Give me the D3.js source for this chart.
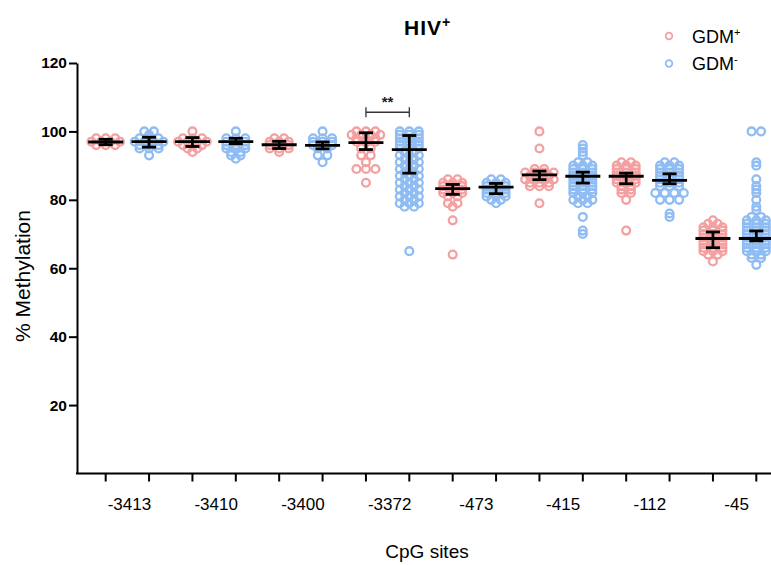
<!DOCTYPE html>
<html>
<head>
<meta charset="utf-8">
<script src="https://cdn.jsdelivr.net/npm/d3@7"></script>
<style>
  html, body { margin: 0; padding: 0; background: #fff; }
  svg { display: block; }
  text { font-family: "Liberation Sans", Arial, sans-serif; }
</style>
</head>
<body>
<div id="chart"></div>
<script>
  // CpG sites and groups
  const sites = ['-3413', '-3410', '-3400', '-3372', '-473', '-415', '-112', '-45'];
  const groups = ['GDM+', 'GDM-'];

  // Individual % methylation values per site
  const gdmPosValues = [
    [98, 98, 98, 97, 97, 97, 97, 96, 96, 96],
    [100, 98, 98, 98, 97, 97, 97, 97, 96, 96, 96, 95, 95, 94],
    [98, 98, 97, 97, 97, 96, 96, 96, 95, 95, 95, 94],
    [100, 100, 100, 99, 99, 99, 99, 98, 98, 98, 97, 97, 97, 95, 95, 93, 93, 91, 89, 89, 89, 85],
    [86, 86, 85, 85, 85, 84, 84, 84, 83, 83, 83, 82, 82, 82, 81, 81, 79, 79, 78, 74, 64],
    [100, 95, 89, 89, 88, 88, 88, 88, 87, 87, 87, 86, 86, 86, 86, 85, 85, 85, 84, 84, 84, 79],
    [91, 91, 90, 90, 90, 89, 89, 89, 88, 88, 88, 87, 87, 87, 86, 86, 86, 85, 85, 85, 84, 84, 83, 83, 82, 82, 80, 71],
    [74, 73, 73, 72, 72, 72, 71, 71, 71, 70, 70, 70, 69, 69, 69, 68, 68, 68, 67, 67, 67, 66, 66, 66, 65, 65, 65, 64, 64, 62]
  ];
  const gdmNegValues = [
    [100, 100, 99, 98, 98, 98, 97, 97, 97, 97, 96, 96, 96, 95, 95, 95, 93],
    [100, 98, 98, 98, 97, 97, 97, 96, 96, 96, 95, 95, 95, 94, 94, 93, 93, 92],
    [100, 98, 98, 98, 97, 97, 97, 96, 96, 96, 95, 95, 93, 93, 91],
    [100, 100, 100, 99, 99, 99, 98, 98, 98, 97, 97, 97, 96, 96, 96, 95, 95, 95, 94, 94, 93, 93, 93,
     92, 92, 91, 91, 91, 90, 90, 89, 89, 89, 88, 88, 87, 87, 87, 86, 86, 85, 85, 85, 84, 84, 83, 83, 83,
     82, 82, 81, 81, 81, 80, 80, 79, 79, 79, 78, 78, 65],
    [86, 86, 85, 85, 85, 84, 84, 84, 83, 83, 83, 82, 82, 82, 81, 81, 81, 80, 80, 79],
    [96, 95, 94, 93, 91, 91, 90, 90, 90, 89, 89, 89, 88, 88, 88, 87, 87, 87, 86, 86, 86, 85, 85, 85,
     84, 84, 84, 83, 83, 83, 82, 82, 82, 81, 81, 80, 80, 80, 79, 79, 75, 71, 70],
    [91, 91, 90, 90, 90, 89, 89, 89, 88, 88, 88, 87, 87, 87, 86, 86, 86, 85, 85, 85, 84, 84, 84,
     82, 82, 82, 82, 80, 80, 80, 76, 75],
    [100, 100, 91, 90, 86, 84, 83, 82, 80, 78, 77, 75, 75, 74, 74, 74, 73, 73, 73, 72, 72, 72, 71, 71, 71,
     70, 70, 70, 69, 69, 69, 68, 68, 68, 67, 67, 67, 66, 66, 66, 65, 65, 65, 64, 64, 63, 63, 61]
  ];

  // Median with interquartile range per site
  const gdmPosMedian = [96.9, 97, 96.1, 96.7, 83.3, 87.3, 86.9, 68.7];
  const gdmPosQ1 = [96.1, 95.6, 95, 94.7, 81.6, 85.9, 84.7, 66];
  const gdmPosQ3 = [97.7, 98.2, 97.1, 99.6, 84.5, 88.4, 87.8, 70.6];
  const gdmNegMedian = [97, 97, 95.9, 94.7, 83.7, 86.9, 85.7, 68.7];
  const gdmNegQ1 = [95.4, 96.4, 94.9, 87.8, 81.8, 84.9, 84.7, 68];
  const gdmNegQ3 = [98.3, 98, 96.9, 98.8, 84.8, 88.1, 87.6, 70.9];

  const yTicks = [20, 40, 60, 80, 100, 120];
  const sigSite = '-3372';
  const sigLevel = 105.6;

  const COLORS = { 'GDM+': '#F4A0A0', 'GDM-': '#8FBCF3' };

  const width = 771, height = 565;
  const svg = d3.select('#chart').append('svg')
    .attr('width', width)
    .attr('height', height);

  const axisX = 77;
  const y = d3.scaleLinear().domain([0, 120]).range([473.5, 63]);
  const xSite = d3.scaleBand().domain(sites).range([84, 778]);
  const xGroup = d3.scaleBand().domain(groups).range([0, xSite.bandwidth()]);
  const cx = (site, g) => xSite(site) + xGroup(g) + xGroup.bandwidth() / 2;

  // Scatter-dot layout: equal values sit side by side in a centred row
  function rowLayout(values, center, step) {
    const pts = [];
    d3.group(values, v => v).forEach((arr, v) => {
      const k = arr.length;
      arr.forEach((_, j) => pts.push({ v: v, x: center + (j - (k - 1) / 2) * step, y: y(v) }));
    });
    return pts;
  }

  const series = [];
  sites.forEach((s, i) => {
    series.push({ site: s, group: 'GDM+', values: gdmPosValues[i], med: gdmPosMedian[i], q1: gdmPosQ1[i], q3: gdmPosQ3[i] });
    series.push({ site: s, group: 'GDM-', values: gdmNegValues[i], med: gdmNegMedian[i], q1: gdmNegQ1[i], q3: gdmNegQ3[i] });
  });

  // Dots
  const dotLayer = svg.append('g').attr('class', 'dots');
  series.forEach(d => {
    const pts = rowLayout(d.values, cx(d.site, d.group), 9.5);
    dotLayer.append('g').selectAll('circle')
      .data(pts)
      .join('circle')
      .attr('cx', p => p.x)
      .attr('cy', p => p.y)
      .attr('r', 3.9)
      .attr('fill', 'none')
      .attr('stroke', COLORS[d.group])
      .attr('stroke-width', 2.3);
  });

  // Median + IQR bars
  const bars = svg.append('g').attr('class', 'bars')
    .selectAll('g')
    .data(series)
    .join('g')
    .attr('transform', d => 'translate(' + cx(d.site, d.group) + ',0)')
    .attr('stroke', '#000')
    .attr('stroke-width', 2.8);

  bars.append('line')
    .attr('x1', -17.5).attr('x2', 17.5)
    .attr('y1', d => y(d.med)).attr('y2', d => y(d.med));
  bars.append('line')
    .attr('x1', 0).attr('x2', 0)
    .attr('y1', d => y(d.q1)).attr('y2', d => y(d.q3));
  bars.append('line')
    .attr('x1', -7).attr('x2', 7)
    .attr('y1', d => y(d.q1)).attr('y2', d => y(d.q1));
  bars.append('line')
    .attr('x1', -7).attr('x2', 7)
    .attr('y1', d => y(d.q3)).attr('y2', d => y(d.q3));

  // Y axis
  const yAxis = svg.append('g')
    .attr('transform', 'translate(' + axisX + ',0)')
    .call(d3.axisLeft(y).tickValues(yTicks).tickSize(8).tickSizeOuter(0).tickPadding(2));
  yAxis.select('.domain').attr('stroke', '#000').attr('stroke-width', 2);
  yAxis.selectAll('.tick line').attr('stroke', '#000').attr('stroke-width', 2);
  yAxis.selectAll('.tick text')
    .attr('fill', '#000')
    .attr('font-size', '15.5px')
    .attr('font-weight', 'bold');

  // X axis: baseline, a tick under every dot column, labels at site centres
  const xAxis = svg.append('g').attr('class', 'x-axis');
  xAxis.append('line')
    .attr('x1', axisX - 1).attr('x2', width)
    .attr('y1', y(0)).attr('y2', y(0))
    .attr('stroke', '#000').attr('stroke-width', 2);
  xAxis.selectAll('.xtick')
    .data(series)
    .join('line')
    .attr('class', 'xtick')
    .attr('x1', d => cx(d.site, d.group)).attr('x2', d => cx(d.site, d.group))
    .attr('y1', y(0)).attr('y2', y(0) + 8)
    .attr('stroke', '#000').attr('stroke-width', 2);
  xAxis.selectAll('.xlabel')
    .data(sites)
    .join('text')
    .attr('class', 'xlabel')
    .attr('x', d => xSite(d) + xSite.bandwidth() / 2 + 2)
    .attr('y', 510)
    .attr('text-anchor', 'middle')
    .attr('font-size', '17px')
    .attr('fill', '#000')
    .text(d => d);

  // Axis titles
  svg.append('text')
    .attr('x', 427).attr('y', 558)
    .attr('text-anchor', 'middle')
    .attr('font-size', '19px')
    .text('CpG sites');
  svg.append('text')
    .attr('transform', 'translate(30,276) rotate(-90)')
    .attr('text-anchor', 'middle')
    .attr('font-size', '21px')
    .text('% Methylation');

  // Title
  const title = svg.append('text')
    .attr('x', 404).attr('y', 35)
    .attr('font-size', '21px')
    .attr('font-weight', 'bold')
    .attr('letter-spacing', '1px')
    .text('HIV');
  title.append('tspan').attr('dy', -8).attr('font-size', '14px').text('+');

  // Significance bracket
  const sx1 = cx(sigSite, 'GDM+'), sx2 = cx(sigSite, 'GDM-');
  const sig = svg.append('g').attr('stroke', '#333').attr('stroke-width', 1.3);
  sig.append('line').attr('x1', sx1).attr('x2', sx2).attr('y1', y(sigLevel)).attr('y2', y(sigLevel));
  sig.append('line').attr('x1', sx1).attr('x2', sx1).attr('y1', y(sigLevel) - 5).attr('y2', y(sigLevel) + 5);
  sig.append('line').attr('x1', sx2).attr('x2', sx2).attr('y1', y(sigLevel) - 5).attr('y2', y(sigLevel) + 5);
  svg.append('text')
    .attr('x', (sx1 + sx2) / 2).attr('y', y(sigLevel) - 5)
    .attr('text-anchor', 'middle')
    .attr('font-size', '15px')
    .attr('font-weight', 'bold')
    .attr('fill', '#222')
    .text('**');

  // Legend
  const legend = svg.append('g').attr('transform', 'translate(669,36)');
  const items = legend.selectAll('g')
    .data(groups)
    .join('g')
    .attr('transform', (d, i) => 'translate(0,' + i * 27.5 + ')');
  items.append('circle')
    .attr('r', 3.3)
    .attr('fill', 'none')
    .attr('stroke', d => COLORS[d])
    .attr('stroke-width', 1.8);
  const lt = items.append('text')
    .attr('x', 23).attr('y', 6.5)
    .attr('font-size', '18px')
    .attr('fill', '#000')
    .text('GDM');
  lt.append('tspan').attr('dy', -7).attr('font-size', '11px').text(d => d.slice(3));
</script>
</body>
</html>
